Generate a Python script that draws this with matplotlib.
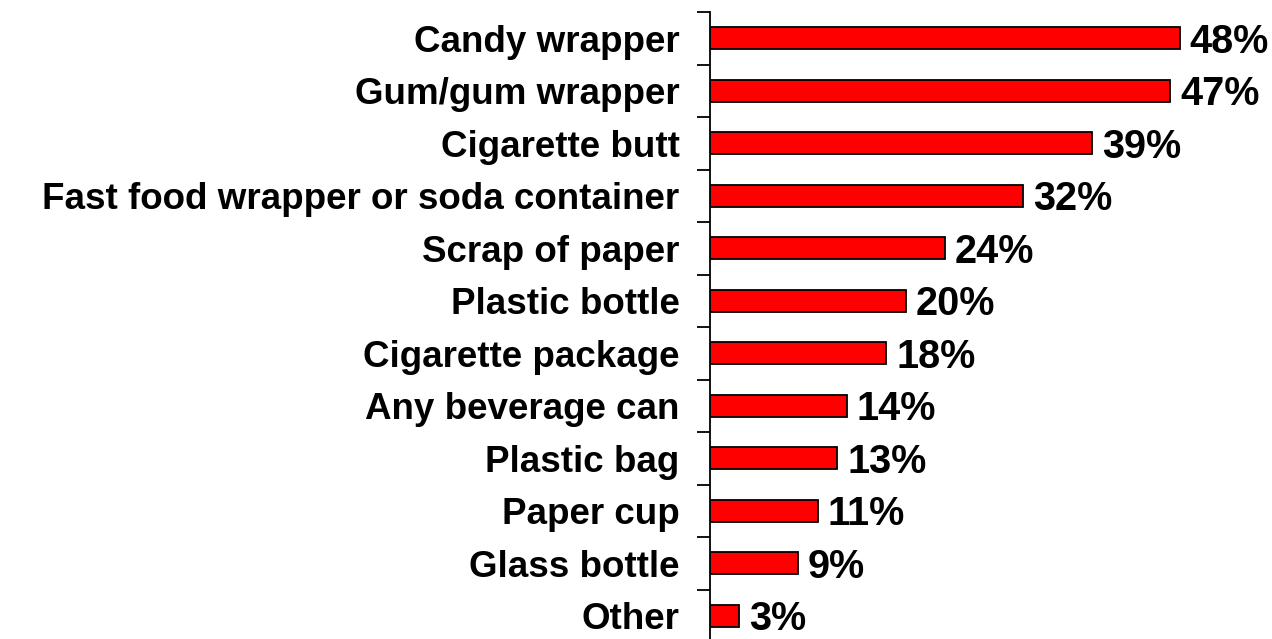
import matplotlib
matplotlib.use("Agg")
import matplotlib.pyplot as plt
import numpy as np

categories = ["Candy wrapper", "Gum/gum wrapper", "Cigarette butt",
              "Fast food wrapper or soda container", "Scrap of paper",
              "Plastic bottle", "Cigarette package", "Any beverage can",
              "Plastic bag", "Paper cup", "Glass bottle", "Other"]
values = [48, 47, 39, 32, 24, 20, 18, 14, 13, 11, 9, 3]

plt.rcParams['font.family'] = ['Liberation Sans', 'DejaVu Sans']
plt.rcParams['font.weight'] = 'bold'

fig = plt.figure(figsize=(12.72, 6.39), dpi=100)
ax = fig.add_axes([710 / 1272, -3 / 639, 1 - 710 / 1272, 630 / 639])

y = np.arange(len(categories))
ax.barh(y, values, height=0.42, color='#ff0000', edgecolor='black', linewidth=1.3)

for yi, v in zip(y, values):
    ax.text(v + 1.0, yi + 0.07, f"{v}%", va='center', ha='left',
            fontsize=28.5, fontweight='bold')

ax.set_xlim(0, 57.4)
ax.set_ylim(len(categories) - 0.5, -0.5)

# tick marks sit between categories, labels at the centres
ax.set_yticks(np.arange(len(categories) + 1) - 0.5)
ax.set_yticklabels([])
ax.set_yticks(y, minor=True)
ax.set_yticklabels(categories, minor=True, fontsize=26.5, fontweight='bold')
ax.tick_params(axis='y', which='major', length=9.4, width=1.3, direction='out')
ax.tick_params(axis='y', which='minor', length=0, pad=22)

ax.set_xticks([])
for side in ['top', 'right', 'bottom']:
    ax.spines[side].set_visible(False)
ax.spines['left'].set_linewidth(1.3)

fig.savefig("out.png", dpi=100)
